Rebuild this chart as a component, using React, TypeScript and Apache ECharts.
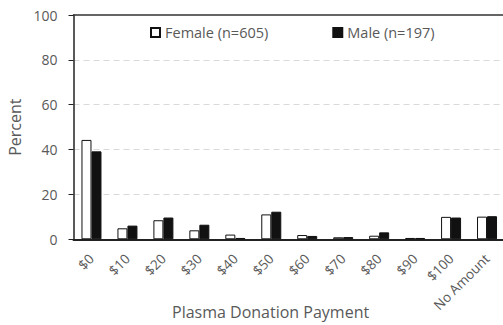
import React, { useEffect, useRef } from "react";
import * as echarts from "echarts";

const categories = ["$0", "$10", "$20", "$30", "$40", "$50", "$60", "$70", "$80", "$90", "$100", "No Amount"];
const female = [44.3, 4.9, 8.5, 4.0, 2.1, 11.1, 1.9, 0.9, 1.6, 0.6, 10.0, 10.1];
const male = [39.2, 6.1, 9.7, 6.5, 0.6, 12.3, 1.5, 1.0, 3.1, 0.6, 9.7, 10.3];
const yTicks = [0, 20, 40, 60, 80, 100];
const xTitle = "Plasma Donation Payment";

const FONT = "'Open Sans', sans-serif";
const GRAY = "#595959";

export default function App() {
  const ref = useRef<HTMLDivElement>(null);
  useEffect(() => {
    if (!ref.current) return;
    const chart = echarts.init(ref.current, null, { renderer: "svg" });
    chart.setOption({
      animation: false,
      textStyle: { fontFamily: FONT },
      grid: {
        left: 73.5,
        right: -2,
        top: 15,
        bottom: 85.7,
        containLabel: false,
        outerBoundsMode: "none",
      },
      legend: {
        left: 145,
        top: 20,
        itemWidth: 9,
        itemHeight: 9,
        itemGap: 64,
        icon: "rect",
        textStyle: { color: GRAY, fontSize: 14.5, fontFamily: FONT },
        data: ["Female (n=605)", "Male (n=197)"],
      },
      graphic: [
        {
          type: "text",
          left: 172,
          top: 304,
          style: {
            text: xTitle,
            fill: GRAY,
            fontSize: 16,
            fontFamily: FONT,
          },
        },
      ],
      xAxis: [
        {
          type: "category",
          data: categories,
          axisLine: { lineStyle: { color: "#222", width: 2 } },
          axisTick: { alignWithLabel: true, length: 4, lineStyle: { color: "#222" } },
          axisLabel: { rotate: 45, color: GRAY, fontSize: 13.5, margin: 17, fontFamily: FONT, interval: 0 },
        },
        {
          type: "category",
          data: categories,
          position: "top",
          axisLine: { show: true, lineStyle: { color: "#333", width: 1.5 } },
          axisTick: { show: false },
          axisLabel: { show: false },
          splitLine: { show: false },
        },
      ],
      yAxis: {
        type: "value",
        min: yTicks[0],
        max: yTicks[yTicks.length - 1],
        interval: 20,
        name: "Percent",
        nameLocation: "middle",
        nameGap: 50,
        nameTextStyle: { color: GRAY, fontSize: 16, fontFamily: FONT },
        axisLine: { show: true, lineStyle: { color: "#222", width: 1.5 } },
        axisTick: { show: true, length: 5, lineStyle: { color: "#222" } },
        axisLabel: { color: GRAY, fontSize: 14, margin: 16, fontFamily: FONT },
        splitLine: { showMaxLine: false, showMinLine: false, lineStyle: { color: "#d9d9d9", type: [6, 4], width: 1 } },
      },
      series: [
        {
          name: "Female (n=605)",
          type: "bar",
          data: female,
          barWidth: 10,
          barGap: "0%",
          itemStyle: { color: "#fff", borderColor: "#111", borderWidth: 1 },
        },
        {
          name: "Male (n=197)",
          type: "bar",
          data: male,
          barWidth: 10,
          barGap: "0%",
          itemStyle: { color: "#111", borderColor: "#111", borderWidth: 1 },
        },
      ],
    });
    return () => chart.dispose();
  }, []);
  return <div ref={ref} style={{ width: 503, height: 325, position: "absolute", left: 0, top: 0 }} />;
}
